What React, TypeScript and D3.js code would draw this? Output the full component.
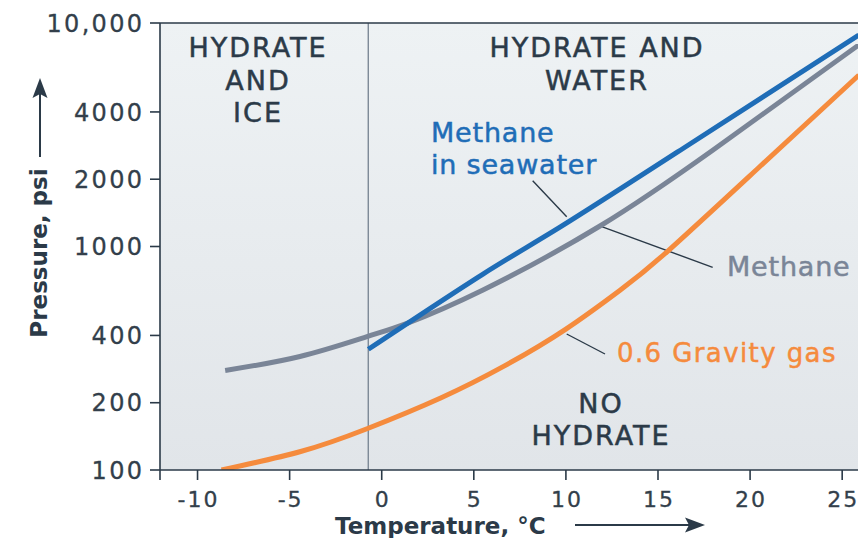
import React from "react";
import * as d3 from "d3";

// ---- data ----
const tempTicks = [-10, -5, 0, 5, 10, 15, 20, 25];
const pressureTicks = [100, 200, 400, 1000, 2000, 4000, 10000];
const pressureTickLabels = ["100", "200", "400", "1000", "2000", "4000", "10,000"];

const methaneTemp = [-8.5, -4.44, -0.8, 1.37, 5.5, 11.85, 17.99, 25.9];
const methanePressure = [279, 322, 395, 453, 639, 1235, 2703, 7973];

const seawaterTemp = [-0.73, 5.5, 9.7, 16.4, 25.9];
const seawaterPressure = [347, 753, 1223, 2759, 8837];

const gravityTemp = [-8.7, -4.4, -0.8, 3.2, 6.69, 10.0, 12.94, 15.49, 20.49, 25.9];
const gravityPressure = [100, 121, 153, 210, 293, 427, 637, 947, 2263, 5841];

const iceBoundaryTemp = -0.73;

const W = 858;
const H = 538;
const FONT = "'DejaVu Sans', sans-serif";
const DARK = "#2b3a48";

export default function App() {
  const left = 160.7;
  const top = 23;
  const bottom = 470;
  const x = d3.scaleLinear().domain([-12, 26]).range([left, 860.6]);
  const y = d3.scaleLog().domain([100, 10000]).range([bottom, top]);

  const line = d3
    .line<[number, number]>()
    .x((d) => x(d[0]))
    .y((d) => y(d[1]))
    .curve(d3.curveNatural);

  const zip = (a: number[], b: number[]) => a.map((v, i) => [v, b[i]] as [number, number]);

  const plotLeft = 160;
  const plotRight = W;

  return (
    <svg
      width={W}
      height={H}
      style={{ position: "absolute", left: 0, top: 0, background: "#fff" }}
      fontFamily={FONT}
    >
      <defs>
        <linearGradient id="bg" x1="0" y1="0" x2="0" y2="1">
          <stop offset="0" stopColor="#eef2f4" />
          <stop offset="1" stopColor="#e1e5e9" />
        </linearGradient>
        <clipPath id="plot">
          <rect x={plotLeft} y={top} width={plotRight - plotLeft} height={bottom - top} />
        </clipPath>
      </defs>

      <rect x={plotLeft} y={top} width={plotRight - plotLeft} height={bottom - top} fill="url(#bg)" />

      {/* ice boundary */}
      <line
        x1={x(iceBoundaryTemp)}
        x2={x(iceBoundaryTemp)}
        y1={top}
        y2={bottom}
        stroke="#7c8896"
        strokeWidth={1.4}
      />

      {/* region labels */}
      <g fill={DARK} stroke={DARK} strokeWidth={0.5} fontSize={27} textAnchor="middle" letterSpacing={2}>
        <text x={258} y={57}>HYDRATE</text>
        <text x={258} y={90}>AND</text>
        <text x={258} y={122}>ICE</text>
        <text x={597} y={57}>HYDRATE AND</text>
        <text x={597} y={90}>WATER</text>
        <text x={601} y={413}>NO</text>
        <text x={601} y={445}>HYDRATE</text>
      </g>

      {/* leader lines */}
      <g stroke={DARK} strokeWidth={1.4}>
        <line x1={532.7} y1={180.7} x2={566.7} y2={216.7} />
        <line x1={601.7} y1={226.7} x2={712.7} y2={267.3} />
        <line x1={566.7} y1={334} x2={605} y2={354} />
      </g>

      {/* curves */}
      <g clipPath="url(#plot)" fill="none" strokeWidth={5}>
        <path d={line(zip(gravityTemp, gravityPressure)) || ""} stroke="#f58b3d" />
        <path d={line(zip(methaneTemp, methanePressure)) || ""} stroke="#7a8597" />
        <path d={line(zip(seawaterTemp, seawaterPressure)) || ""} stroke="#1f6db7" />
      </g>

      {/* series labels */}
      <g fontSize={27} letterSpacing={0.8} strokeWidth={0.5}>
        <text x={431} y={142} fill="#1f6db7" stroke="#1f6db7">Methane</text>
        <text x={431} y={174} fill="#1f6db7" stroke="#1f6db7">in seawater</text>
        <text x={727} y={276} fill="#7a8597" stroke="#7a8597">Methane</text>
        <text x={617} y={362} fontSize={26} letterSpacing={1.4} fill="#f58b3d" stroke="#f58b3d">0.6 Gravity gas</text>
      </g>

      {/* axes */}
      <g stroke={DARK} strokeWidth={1.6}>
        <line x1={plotLeft} x2={plotRight} y1={top} y2={top} />
        <line x1={plotLeft} x2={plotLeft} y1={top} y2={bottom + 10} />
        <line x1={plotLeft} x2={plotRight} y1={bottom} y2={bottom} />
        {pressureTicks.map((p) => (
          <line key={p} x1={plotLeft - 10} x2={plotLeft} y1={y(p)} y2={y(p)} />
        ))}
        {tempTicks.map((t) => (
          <line key={t} x1={x(t)} x2={x(t)} y1={bottom} y2={bottom + 10} />
        ))}
      </g>

      <g fill="#333f4b" stroke="#333f4b" strokeWidth={0.3} fontSize={24} textAnchor="end" letterSpacing={2.3}>
        {pressureTicks.map((p, i) => (
          <text key={p} x={144.3} y={y(p)} dy="0.36em">
            {pressureTickLabels[i]}
          </text>
        ))}
      </g>
      <g fill="#333f4b" stroke="#333f4b" strokeWidth={0.3} fontSize={22} textAnchor="middle" letterSpacing={2}>
        {tempTicks.map((t) => (
          <text key={t} x={x(t) + 1} y={507}>
            {t}
          </text>
        ))}
      </g>

      {/* axis titles */}
      <text x={335} y={534} fill={DARK} fontSize={23} fontWeight="bold">
        Temperature, °C
      </text>
      <line x1={575} x2={690} y1={525} y2={525} stroke={DARK} strokeWidth={2} />
      <path d="M705,525 L685,517.5 L689,525 L685,532.5 Z" fill={DARK} />

      <text
        transform="translate(47,253) rotate(-90)"
        fill={DARK}
        fontSize={23}
        fontWeight="bold"
        textAnchor="middle"
      >
        Pressure, psi
      </text>
      <line x1={40} x2={40} y1={157} y2={94} stroke={DARK} strokeWidth={2} />
      <path d="M40,78 L32.5,98 L40,94 L47.5,98 Z" fill={DARK} />
    </svg>
  );
}
